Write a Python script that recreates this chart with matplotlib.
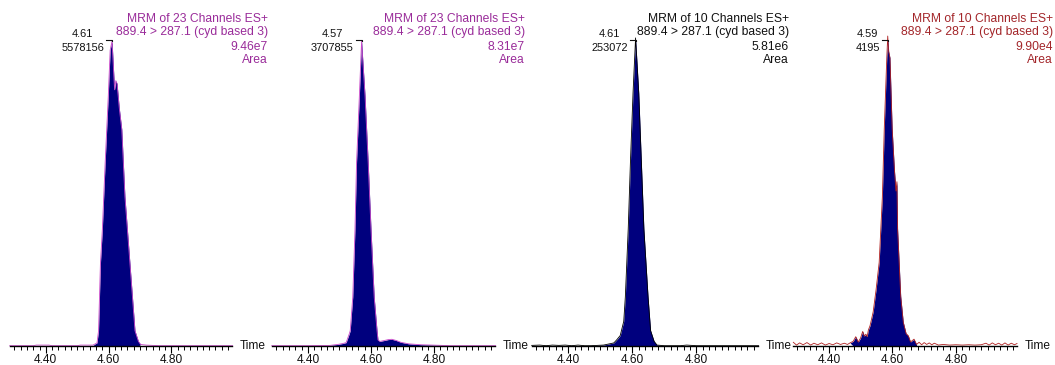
import matplotlib
matplotlib.use("Agg")
import matplotlib.pyplot as plt
from matplotlib.ticker import MultipleLocator, FixedLocator
from matplotlib.lines import Line2D

plt.rcParams['font.family'] = ['Liberation Sans', 'DejaVu Sans']

# ---------------- data (intensity in % of each trace's maximum) ----------------
t1 = [4.285, 4.33, 4.36, 4.37, 4.41, 4.42, 4.46, 4.50, 4.51, 4.55, 4.563, 4.568,
      4.574, 4.580, 4.589, 4.599, 4.605, 4.611, 4.615, 4.619, 4.623, 4.627, 4.634,
      4.642, 4.652, 4.668, 4.684, 4.695, 4.702, 4.72, 4.76, 4.85, 4.995]
y1 = [0.1, 0.1, 0.1, 0.3, 0.3, 0.1, 0.1, 0.1, 0.3, 0.3, 1, 5,
      27, 38, 60, 82, 97, 100, 92, 84, 87, 86, 78,
      71, 49, 27, 5, 1.5, 0.5, 0.3, 0.1, 0.1, 0.1]

t2 = [4.285, 4.40, 4.47, 4.494, 4.510, 4.521, 4.531, 4.534, 4.542, 4.549, 4.554,
      4.563, 4.570, 4.581, 4.591, 4.600, 4.610, 4.619, 4.622, 4.628, 4.642, 4.655,
      4.666, 4.680, 4.695, 4.720, 4.76, 4.825, 4.85, 4.995]
y2 = [0.1, 0.1, 0.2, 0.5, 0.8, 1.1, 4, 5, 16, 38, 60,
      82, 100, 82, 60, 38, 16, 5, 2, 1.5, 1.8, 2.1,
      2.2, 1.8, 1.2, 0.7, 0.4, 0.2, 0.1, 0.1]

t3 = [4.285, 4.31, 4.33, 4.35, 4.37, 4.39, 4.41, 4.43, 4.45, 4.47, 4.51, 4.542,
      4.551, 4.562, 4.573, 4.578, 4.587, 4.594, 4.602, 4.610, 4.620, 4.628, 4.636,
      4.649, 4.657, 4.668, 4.677, 4.70, 4.75, 4.77, 4.80, 4.995]
y3 = [0.2, 0.3, 0.1, 0.3, 0.2, 0.3, 0.1, 0.3, 0.1, 0.1, 0.3, 1,
      2, 3.4, 8, 16, 38, 60, 82, 100, 82, 60, 38,
      16, 5, 1.5, 0.3, 0.1, 0.1, 0.3, 0.1, 0.1]

t4 = [4.287, 4.297, 4.307, 4.318, 4.330, 4.342, 4.352, 4.364, 4.376, 4.388,
      4.400, 4.412, 4.424, 4.436, 4.448, 4.458, 4.466, 4.476, 4.484, 4.492,
      4.499, 4.506, 4.511, 4.516, 4.520, 4.524, 4.529, 4.534, 4.539, 4.548,
      4.558, 4.568, 4.574, 4.582, 4.585, 4.588, 4.592, 4.599, 4.606, 4.611,
      4.614, 4.616, 4.626, 4.634, 4.643, 4.650, 4.657, 4.668, 4.676, 4.684,
      4.692, 4.700, 4.708, 4.716, 4.724, 4.732, 4.745, 4.760, 4.780, 4.800,
      4.820, 4.840, 4.860, 4.880, 4.895, 4.905, 4.915, 4.925, 4.935, 4.945,
      4.955, 4.965, 4.975, 4.985, 4.993]
y4 = [1.2, 0.3, 1.0, 0.4, 1.1, 0.3, 0.9, 0.4, 1.0, 0.3,
      0.8, 0.4, 1.0, 0.5, 0.9, 0.5, 1.0, 1.5, 3.0, 1.3,
      2.5, 4.7, 3.2, 3.8, 3.0, 5.2, 6.5, 8.7, 11, 18,
      27, 48, 70, 93, 100, 95, 93, 70, 57, 50,
      53, 38, 16, 7.7, 4.0, 3.3, 1.3, 2.2, 0.5, 1.2,
      0.4, 1.1, 0.5, 1.0, 0.4, 0.9, 0.3, 0.5, 0.3, 0.4,
      0.3, 0.4, 0.3, 0.4, 0.9, 0.3, 1.0, 0.4, 0.9, 0.3,
      1.0, 0.3, 0.9, 0.4, 0.8]

times = [t1, t2, t3, t4]
intens = [y1, y2, y3, y4]

peak_rt = [4.611, 4.570, 4.610, 4.585]
peak_rt_labels = ["4.61", "4.57", "4.61", "4.59"]
peak_heights = ["5578156", "3707855", "253072", "4195"]
fill_from = [4.555, 4.49, 4.51, 4.47]
fill_to = [4.70, 4.83, 4.68, 4.68]

header_line1 = ["MRM of 23 Channels ES+", "MRM of 23 Channels ES+",
                "MRM of 10 Channels ES+", "MRM of 10 Channels ES+"]
header_line2 = ["889.4 > 287.1 (cyd based 3)"] * 4
header_area = ["9.46e7", "8.31e7", "5.81e6", "9.90e4"]
header_line4 = ["Area"] * 4

tick_values = [4.40, 4.60, 4.80]
tick_labels = ["4.40", "4.60", "4.80"]
x_label = "Time"

# ---------------- style / layout ----------------
W, H = 1055, 365
fig = plt.figure(figsize=(W / 100, H / 100), dpi=100)
fig.patch.set_facecolor("white")

def fx(px):
    return px / W

def fy(py):
    return 1 - py / H

ax_left = [10, 272, 532, 793]
ax_right = [232, 495, 758, 1017]
base_y = 346
top_y = 41
ytop = [100, 100, 99, 98.4]
text_right = [268, 525, 789, 1053]
line_y = [19, 32.5, 46.5, 60]
text_col = ["#9a2c9a", "#9a2c9a", "#111111", "#a3262a"]
line_col = ["#c848c8", "#c848c8", "#000000", "#b02222"]
navy = "#00007e"
fs_head = 8.7
fs_peak = 7.9
fs_tick = 8.6

fig.canvas.draw()

for i in range(4):
    l, r = ax_left[i], ax_right[i]
    ax = fig.add_axes([fx(l), fy(base_y), (r - l) / W, (base_y - top_y) / H])
    ax.set_xlim(4.286, 4.993)
    ax.set_ylim(0, ytop[i])
    ax.patch.set_visible(False)
    t = times[i]
    y = intens[i]
    mask = [(fill_from[i] <= tt <= fill_to[i]) for tt in t]
    ax.fill_between(t, y, 0, where=mask, color=navy, lw=0, interpolate=True)
    ax.plot(t, y, color=line_col[i], lw=0.6, clip_on=False)
    for s in ["top", "left", "right"]:
        ax.spines[s].set_visible(False)
    ax.spines["bottom"].set_color("black")
    ax.spines["bottom"].set_linewidth(1.0)
    ax.set_yticks([])
    ax.xaxis.set_major_locator(FixedLocator(tick_values))
    ax.set_xticklabels(tick_labels)
    ax.xaxis.set_minor_locator(MultipleLocator(0.02))
    ax.tick_params(axis="x", which="major", length=5, width=0.8, direction="out",
                   labelsize=fs_tick, pad=1, color="black", labelcolor="#111111")
    ax.tick_params(axis="x", which="minor", length=3, width=0.7, direction="out",
                   color="black")
    fig.text(fx(r + 8), fy(base_y), x_label, ha="left", va="center",
             fontsize=fs_tick, color="#111111")

    # header block
    for j, s in enumerate([header_line1[i], header_line2[i], header_area[i], header_line4[i]]):
        fig.text(fx(text_right[i]), fy(line_y[j]), s, ha="right", va="center",
                 fontsize=fs_head, color=text_col[i])

    # peak annotation
    fig.canvas.draw()
    xd, yd = ax.transData.transform((peak_rt[i], ytop[i]))
    apex_px = xd
    cnt = fig.text((apex_px - 8) / W, fy(48), peak_heights[i], ha="right",
                   va="center", fontsize=fs_peak, color="#111111")
    bb = cnt.get_window_extent(renderer=fig.canvas.get_renderer())
    cx = (bb.x0 + bb.x1) / 2
    fig.text(cx / W, fy(34), peak_rt_labels[i], ha="center", va="center",
             fontsize=fs_peak, color="#111111")
    br = Line2D([(apex_px - 6) / W, apex_px / W, apex_px / W],
                [fy(40), fy(40), fy(top_y)], transform=fig.transFigure,
                color="#111111", lw=0.8)
    fig.add_artist(br)

fig.savefig("out.png", dpi=100, facecolor="white")
